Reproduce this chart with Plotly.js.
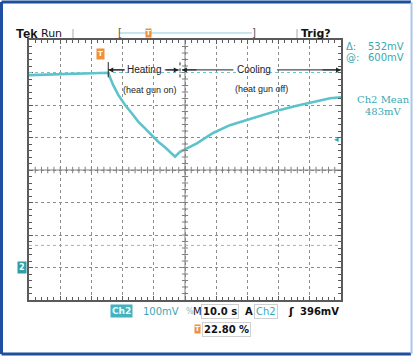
<!DOCTYPE html>
<html>
<head>
<meta charset="utf-8">
<script src="https://cdn.plot.ly/plotly-3.0.1.min.js"></script>
<style>html,body{margin:0;padding:0;background:#fff;}#chart{width:413px;height:356px;}</style>
</head>
<body>
<div id="chart"></div>
<script>
// ---- data (time in s across 10 div of 10 s, Ch2 in mV above ground) ----
const timeS = [0, 5, 10, 15, 20, 24, 25.4, 26.0, 27.0, 28.6, 30.8, 33.0, 35.0, 37.2, 39.3, 41.4, 43.6, 45.7, 46.8, 48.4, 50.5, 53.8, 59.0, 64.4, 69.8, 75.0, 80.4, 85.8, 91.0, 96.5, 100];
const ch2mV = [592, 593, 594, 596, 597, 598, 599, 584, 561, 531, 500, 474, 449, 428, 408, 387, 370, 351, 341, 356, 367, 382, 414, 438, 454, 469, 485, 498, 510, 521, 524];
const cursorAmV = 600;
const cursorDeltamV = 532;
const cursorBmV = cursorAmV - cursorDeltamV;
const triggerLevelmV = 396;
const triggerPosPct = 22.80;
const ch2MeanmV = 483;
const voltsPerDiv = '100mV';
const secPerDiv = '10.0 s';
const heatEndS = 48.4;
const heatStartS = 25.4;

// ---- layout helpers (pixel -> paper) ----
const L = 29, R = 341, T = 40, B = 300;
const px = x => (x - L) / (R - L);
const py = y => (B - y) / (B - T);
const teal = '#3aa8b4';
const traceCol = '#5cc3cb';
const orange = '#f0903a';

const ann = [];
function txt(text, x, y, o) {
  ann.push(Object.assign({text: text, x: px(x), y: py(y), xref: 'paper', yref: 'paper',
    showarrow: false, xanchor: 'left', yanchor: 'middle',
    font: {family: 'DejaVu Sans, Arial', size: 10, color: '#111'}}, o || {}));
}
// header
txt('<b>Tek</b>', 14, 33, {font: {family: 'Liberation Sans, Arial', size: 13, color: '#111'}});
txt('Run', 39, 33, {font: {family: 'DejaVu Sans', size: 11, color: '#111'}});
txt('<b>Trig?</b>', 299, 33, {font: {family: 'DejaVu Sans', size: 11, color: '#111'}});
txt('[', 116, 32, {font: {family: 'DejaVu Sans', size: 10, color: '#555'}});
txt(']', 250, 32, {font: {family: 'DejaVu Sans', size: 10, color: '#555'}});
txt('<b>T</b>', 148, 33, {xanchor: 'center', bgcolor: orange, borderpad: 0, font: {family: 'DejaVu Sans', size: 7, color: '#fff'}});
// right panel
txt('Δ:', 344, 46, {font: {family: 'DejaVu Sans', size: 10, color: teal}});
txt(cursorDeltamV + 'mV', 406, 46, {xanchor: 'right', font: {family: 'DejaVu Sans', size: 10, color: teal}});
txt('@:', 344, 57, {font: {family: 'DejaVu Sans', size: 10, color: teal}});
txt(cursorAmV + 'mV', 406, 57, {xanchor: 'right', font: {family: 'DejaVu Sans', size: 10, color: teal}});
txt('Ch2 Mean', 383, 100, {xanchor: 'center', font: {family: 'DejaVu Serif', size: 10, color: teal}});
txt(ch2MeanmV + 'mV', 383, 111, {xanchor: 'center', font: {family: 'DejaVu Serif', size: 10, color: teal}});
// bottom readout
txt('<b>Ch2</b>', 110, 311, {bgcolor: '#45b2bf', borderpad: 1, font: {family: 'DejaVu Sans', size: 9, color: '#e8ffff'}});
txt(voltsPerDiv, 141, 311, {font: {family: 'DejaVu Sans', size: 10, color: teal}});
txt('%', 184, 311, {font: {family: 'DejaVu Sans', size: 8, color: '#7fb8c0'}});
txt('M', 191, 311, {font: {family: 'DejaVu Sans', size: 10, color: '#111'}});
txt('<b>' + secPerDiv + '</b>', 201, 311, {bordercolor: '#cfcfcf', borderwidth: 1, borderpad: 1, font: {family: 'DejaVu Sans', size: 10, color: '#111'}});
txt('<b>A</b>', 243, 311, {font: {family: 'DejaVu Sans', size: 10, color: '#111'}});
txt('Ch2', 254, 311, {bordercolor: '#cfcfcf', borderwidth: 1, borderpad: 1, font: {family: 'DejaVu Sans', size: 10, color: teal}});
txt('<b>ʃ</b>', 286, 311, {font: {family: 'DejaVu Sans', size: 11, color: '#111'}});
txt('<b>' + triggerLevelmV + 'mV</b>', 341, 311, {xanchor: 'right', font: {family: 'DejaVu Sans', size: 10, color: '#111'}});
txt('<b>T</b>', 197, 329, {xanchor: 'center', bgcolor: orange, borderpad: 0, font: {family: 'DejaVu Sans', size: 7, color: '#fff'}});
txt('<b>' + triggerPosPct.toFixed(2) + ' %</b>', 202, 329, {bordercolor: '#cfcfcf', borderwidth: 1, borderpad: 1, font: {family: 'DejaVu Sans', size: 10, color: '#111'}});

// in-plot annotations (data coords)
function dtxt(text, x, y, o) {
  ann.push(Object.assign({text: text, x: x, y: y, xref: 'x', yref: 'y', showarrow: false,
    font: {family: 'Liberation Sans, Arial', size: 9, color: '#222'}}, o || {}));
}
const arrowY = 608;
dtxt('Heating', (heatStartS + heatEndS) / 2, arrowY, {font: {family: 'Liberation Sans, Arial', size: 10, color: '#222'}});
dtxt('Cooling', 72.1, arrowY, {font: {family: 'Liberation Sans, Arial', size: 10, color: '#222'}});
dtxt('(heat gun on)', 38.9, 546);
dtxt('(heat gun off)', 74.4, 549);
// arrowheads
function arrow(x, ax) {
  ann.push({x: x, y: arrowY, xref: 'x', yref: 'y', ax: ax, ay: 0, text: '', showarrow: true,
    arrowhead: 2, arrowsize: 1, arrowwidth: 1, arrowcolor: '#222'});
}
arrow(heatStartS, 18);
arrow(48.0, -14);
arrow(49.0, 16);
arrow(100, -20);
// trigger markers
ann.push({x: triggerPosPct, y: py(47.5), xref: 'x', yref: 'paper', text: '<b>T</b>', showarrow: false,
  bgcolor: orange, borderpad: 1, font: {family: 'DejaVu Sans', size: 7, color: '#fff'}});
ann.push({x: 98.6, y: triggerLevelmV, xref: 'x', yref: 'y', text: '◂', showarrow: false,
  font: {family: 'DejaVu Sans', size: 9, color: teal}});
// ground marker
ann.push({x: px(27), y: 0, xref: 'paper', yref: 'y', xanchor: 'right', text: '<b>2</b>', showarrow: false,
  bgcolor: '#2e9ea9', borderpad: 1, font: {family: 'DejaVu Sans', size: 8, color: '#fff'}});

// ---- shapes ----
const shapes = [];
const gcol = '#808080';
// center cross
shapes.push({type: 'line', xref: 'x', yref: 'paper', x0: 50, x1: 50, y0: 0, y1: 1, line: {color: gcol, width: 1}});
shapes.push({type: 'line', xref: 'paper', yref: 'y', x0: 0, x1: 1, y0: 300, y1: 300, line: {color: gcol, width: 1}});
for (let t = 2; t < 100; t += 2) {
  shapes.push({type: 'line', xref: 'x', yref: 'y', x0: t, x1: t, y0: 290, y1: 310, line: {color: gcol, width: 1}});
}
for (let v = -80; v < 700; v += 20) {
  shapes.push({type: 'line', xref: 'x', yref: 'y', x0: 49, x1: 51, y0: v, y1: v, line: {color: gcol, width: 1}});
}
// cursors
[cursorAmV, cursorBmV].forEach(v => shapes.push({type: 'line', xref: 'paper', yref: 'y', x0: 0, x1: 1, y0: v, y1: v,
  line: {color: '#6cc6ce', width: 1, dash: 'dot'}}));
// heating / cooling bars
shapes.push({type: 'line', xref: 'x', yref: 'y', x0: heatStartS, x1: heatStartS, y0: 585, y1: 632, line: {color: '#222', width: 1}});
shapes.push({type: 'line', xref: 'x', yref: 'y', x0: heatStartS, x1: 30.5, y0: arrowY, y1: arrowY, line: {color: '#222', width: 1}});
shapes.push({type: 'line', xref: 'x', yref: 'y', x0: 43.5, x1: 48.0, y0: arrowY, y1: arrowY, line: {color: '#222', width: 1}});
shapes.push({type: 'line', xref: 'x', yref: 'y', x0: heatEndS, x1: heatEndS, y0: 585, y1: 632, line: {color: '#222', width: 1, dash: 'dot'}});
shapes.push({type: 'line', xref: 'x', yref: 'y', x0: 49.0, x1: 65.5, y0: arrowY, y1: arrowY, line: {color: '#222', width: 1}});
shapes.push({type: 'line', xref: 'x', yref: 'y', x0: 79.5, x1: 100, y0: arrowY, y1: arrowY, line: {color: '#222', width: 1}});
// header bar
shapes.push({type: 'line', xref: 'paper', yref: 'paper', x0: px(119), x1: px(252), y0: py(33), y1: py(33), line: {color: '#8fcbd8', width: 1}});
[73, 297].forEach(x => shapes.push({type: 'line', xref: 'paper', yref: 'paper', x0: px(x), x1: px(x), y0: py(29), y1: py(38), line: {color: '#aaa', width: 1}}));
// outer frame
const fb = '#1d4f9e';
shapes.push({type: 'line', xref: 'paper', yref: 'paper', x0: px(1.5), x1: px(1.5), y0: py(2), y1: py(354), line: {color: fb, width: 3}});
shapes.push({type: 'line', xref: 'paper', yref: 'paper', x0: px(1.5), x1: px(411), y0: py(2), y1: py(2), line: {color: fb, width: 3}});
shapes.push({type: 'line', xref: 'paper', yref: 'paper', x0: px(1.5), x1: px(411), y0: py(354), y1: py(354), line: {color: fb, width: 3}});
shapes.push({type: 'line', xref: 'paper', yref: 'paper', x0: px(411.5), x1: px(411.5), y0: py(2), y1: py(354), line: {color: '#a9c6ea', width: 2}});

const axisCommon = {showticklabels: false, zeroline: false, showgrid: true, griddash: 'dot', gridcolor: '#8c8c8c', gridwidth: 1,
  showline: true, linecolor: '#5a5a5a', linewidth: 2, mirror: 'allticks', ticks: 'inside', ticklen: 4, tickcolor: '#5a5a5a', fixedrange: true};

const layout = {
  width: 413, height: 356,
  margin: {l: L, r: 413 - R, t: T, b: 356 - B, pad: 0},
  paper_bgcolor: '#fff', plot_bgcolor: '#fff',
  showlegend: false,
  xaxis: Object.assign({}, axisCommon, {range: [0, 100], dtick: 10, tick0: 0,
    minor: {dtick: 2, ticks: 'inside', ticklen: 3, tickcolor: '#5a5a5a', showgrid: false}}),
  yaxis: Object.assign({}, axisCommon, {range: [-100, 700], dtick: 100, tick0: 0,
    minor: {dtick: 20, ticks: 'inside', ticklen: 3, tickcolor: '#5a5a5a', showgrid: false}}),
  shapes: shapes,
  annotations: ann
};

const data = [{x: timeS, y: ch2mV, type: 'scatter', mode: 'lines', line: {color: traceCol, width: 2.6}, hoverinfo: 'none'}];

Plotly.newPlot('chart', data, layout, {displayModeBar: false, staticPlot: true});
</script>
</body>
</html>
